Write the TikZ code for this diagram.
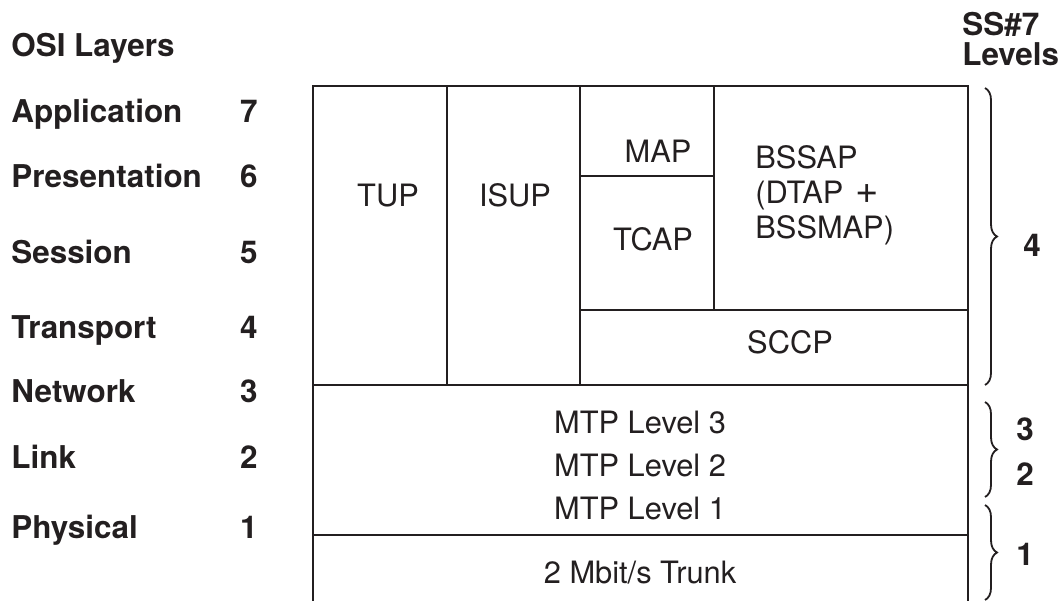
\documentclass[tikz,border=0pt]{standalone}
\usepackage{fontspec}
\setmainfont{TeX Gyre Heros}
\usetikzlibrary{decorations.pathreplacing}
\definecolor{ink}{HTML}{231F20}
\begin{document}
\begin{tikzpicture}[x=0.5pt,y=-0.5pt,
  frame/.style={draw=ink,line width=1.1pt},
  lbl/.style={inner sep=0pt,anchor=base west,text=ink,font=\fontsize{15.7}{18}\selectfont\bfseries},
  num/.style={inner sep=0pt,anchor=base east,text=ink,font=\fontsize{15.7}{18}\selectfont\bfseries},
  cell/.style={inner sep=0pt,anchor=base,text=ink,font=\fontsize{15.4}{18}\selectfont},
  cellw/.style={inner sep=0pt,anchor=base west,text=ink,font=\fontsize{15.4}{18}\selectfont},
  lev/.style={inner sep=0pt,anchor=base,text=ink,font=\fontsize{15.7}{18}\selectfont\bfseries},
  brc/.style={draw=ink,line width=0.9pt,decorate,decoration={brace,amplitude=6pt,aspect=0.5}}]
\useasboundingbox (0,0) rectangle (1063,600);
% frame
\draw[frame] (313,602) -- (313,86) -- (968,86) -- (968,602);
\draw[frame] (313,385) -- (968,385);
\draw[frame] (313,535) -- (968,535);
\draw[frame] (447,86) -- (447,385);
\draw[frame] (580,86) -- (580,385);
\draw[frame] (714,86) -- (714,310);
\draw[frame] (580,176) -- (714,176);
\draw[frame] (580,310) -- (968,310);
% left labels
\node[lbl] (osi) at (11,56) {OSI Layers};
\node[lbl] (app) at (11,122) {Application};
\node[lbl] (pre) at (11,187) {Presentation};
\node[lbl] (ses) at (11,263) {Session};
\node[lbl] (tra) at (11,338) {Transport};
\node[lbl] (net) at (11,402) {Network};
\node[lbl] (lnk) at (11,468) {Link};
\node[lbl] (phy) at (11,538) {Physical};
\node[num] (n7) at (258,122) {7};
\node[num] (n6) at (258,187) {6};
\node[num] (n5) at (258,263) {5};
\node[num] (n4) at (258,338) {4};
\node[num] (n3) at (258,402) {3};
\node[num] (n2) at (258,468) {2};
\node[num] (n1) at (258,538) {1};
% cell texts
\node[cell] (tup) at (388,206) {TUP};
\node[cell] (isup) at (515,206) {ISUP};
\node[cell] (map) at (658,162) {MAP};
\node[cell] (tcap) at (653,250) {TCAP};
\node[cellw] (bssap) at (755,168) {BSSAP};
\node[cellw] (dtap) at (755,203) {(DTAP\hspace{6pt}{\fontsize{20}{20}\selectfont +}};
\node[cellw] (bssmap) at (755,238) {BSSMAP)};
\node[cell] (sccp) at (790,353) {SCCP};
\node[cell] (mtp3) at (640,433) {MTP Level 3};
\node[cell] (mtp2) at (640,476) {MTP Level 2};
\node[cell] (mtp1) at (640,519) {MTP Level 1};
\node[cell] (trunk) at (640,583) {2 Mbit/s Trunk};
% SS7 levels
\node[lbl] (ss7) at (962,35) {SS\#7};
\node[lbl] (levels) at (962,65) {Levels};
\coordinate (b1s) at (985,88);
\coordinate (b1e) at (985,385);
\coordinate (b2s) at (985,402);
\coordinate (b2e) at (985,497);
\coordinate (b3s) at (985,505);
\coordinate (b3e) at (985,600);
\draw[brc] (b1s) -- (b1e);
\draw[brc] (b2s) -- (b2e);
\draw[brc] (b3s) -- (b3e);
\node[lev] (l4) at (1032,256) {4};
\node[lev] (l3) at (1025,440) {3};
\node[lev] (l2) at (1025,485) {2};
\node[lev] (l1) at (1025,565) {1};
\end{tikzpicture}
\end{document}
